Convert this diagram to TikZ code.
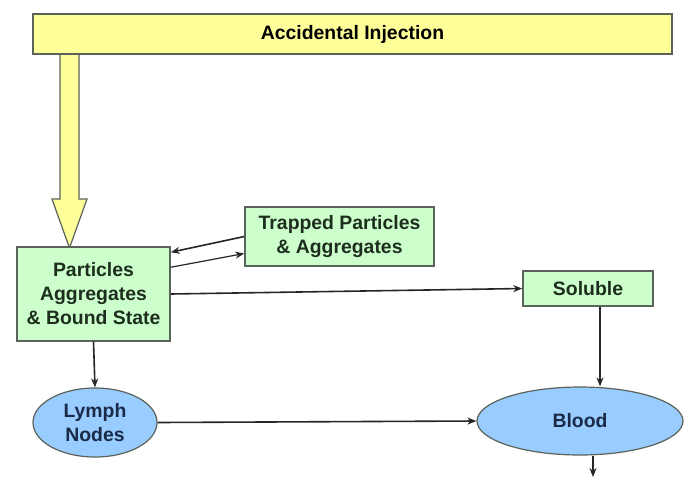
\documentclass[tikz,border=0pt]{standalone}
\usepackage{fontspec}
\setmainfont{Liberation Sans}
\usetikzlibrary{shapes.geometric,arrows.meta}
\definecolor{barfill}{HTML}{FFFF99}
\definecolor{boxfill}{HTML}{CCFFCC}
\definecolor{ovalfill}{HTML}{99CCFF}
\definecolor{edgegrey}{HTML}{5A625A}
\definecolor{boxtext}{HTML}{1E2E1E}
\definecolor{ovaltext}{HTML}{1A2A48}
\tikzset{
  lbl/.style={font=\fontsize{19.4}{24}\selectfont\bfseries, align=center, inner sep=0pt},
  bar/.style={lbl, draw=edgegrey, line width=1.5pt, fill=barfill, text=black},
  stagebox/.style={lbl, draw=edgegrey, line width=1.5pt, fill=boxfill, text=boxtext},
  oval/.style={lbl, ellipse, draw=edgegrey, line width=1.2pt, fill=ovalfill, text=ovaltext},
  arr/.style={draw=black!85, line width=1.6pt, -{Stealth[length=9pt,width=7pt]}},
  fat/.style={draw=edgegrey, line width=1.2pt, fill=barfill, line join=miter}
}
\begin{document}
\begin{tikzpicture}[x=1pt,y=-1pt]
\useasboundingbox[fill=white] (0,0) rectangle (684,477);

% broad arrow from the injection bar down to the first stage
\draw[fat] (60,54) -- (60,199) -- (52,199) -- (69.5,248) -- (87,199) -- (79,199) -- (79,54);

\node[bar, minimum width=639pt, minimum height=40pt] (inj) at (352.5,34) {Accidental Injection};

\node[stagebox, minimum width=153pt, minimum height=94pt] (part) at (93.5,294)
  {Particles\\Aggregates\\\& Bound State};
\node[stagebox, minimum width=189pt, minimum height=59pt] (trap) at (339.5,236.5)
  {Trapped Particles\\\& Aggregates};
\node[stagebox, minimum width=130pt, minimum height=35pt] (sol) at (588,288.5) {Soluble};

\node[oval, minimum width=124pt, minimum height=69pt] (lymph) at (95,422.5) {Lymph\\Nodes};
\node[oval, minimum width=206pt, minimum height=68pt] (blood) at (580,421) {Blood};

\coordinate (bout) at (593,477);

\draw[arr] (trap.west) -- ([yshift=-6pt]part.north east);
\draw[arr, line width=1.2pt] ([yshift=-21pt]part.north east) -- ([yshift=-17pt]trap.west);
\draw[arr] (part.east) -- (sol.west);
\draw[arr] ([xshift=12pt]sol.south) -- ([xshift=12pt]sol.south |- blood.north);
\draw[arr] (part.south) -- (lymph.north);
\draw[arr] (lymph.east) -- (blood.west);
\draw[arr] (blood.south -| bout) -- (bout);
\end{tikzpicture}
\end{document}
